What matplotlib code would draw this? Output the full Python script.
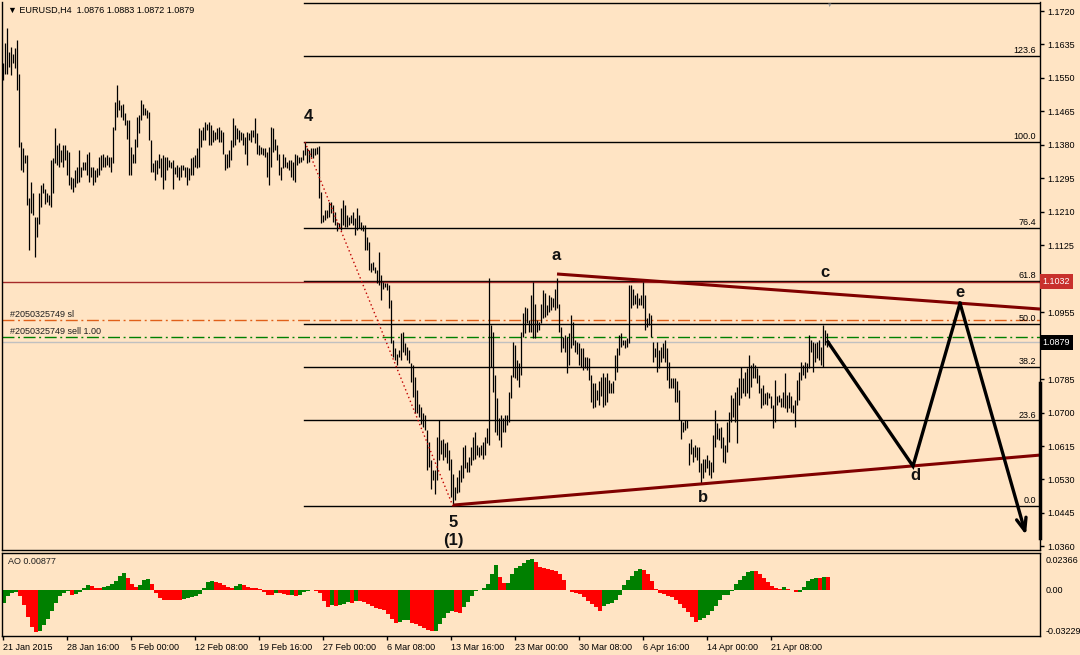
import numpy as np
import matplotlib
matplotlib.use('Agg')
import matplotlib.pyplot as plt
import matplotlib.transforms as mtransforms

# EURUSD H4 bars (high / low), one per bar
highs = [
    1.1587, 1.1638, 1.1676, 1.1617, 1.1629, 1.1612, 1.1625, 1.1646, 1.1561, 1.1388,
    1.1371, 1.1354, 1.1354, 1.1244, 1.1286, 1.1257, 1.1197, 1.1197, 1.1257, 1.1278,
    1.1282, 1.1269, 1.1257, 1.1252, 1.1341, 1.1346, 1.1422, 1.1379, 1.1384, 1.1367,
    1.1379, 1.1379, 1.1367, 1.1362, 1.1299, 1.1295, 1.1316, 1.1324, 1.1367, 1.1324,
    1.1337, 1.1337, 1.1358, 1.1362, 1.1324, 1.1324, 1.1316, 1.1320, 1.1350, 1.1354,
    1.1358, 1.1350, 1.1354, 1.1350, 1.1350, 1.1426, 1.1490, 1.1532, 1.1494, 1.1481,
    1.1485, 1.1460, 1.1443, 1.1443, 1.1375, 1.1358, 1.1396, 1.1451, 1.1456, 1.1494,
    1.1485, 1.1473, 1.1468, 1.1464, 1.1392, 1.1333, 1.1341, 1.1341, 1.1358, 1.1346,
    1.1354, 1.1350, 1.1350, 1.1341, 1.1337, 1.1341, 1.1324, 1.1329, 1.1324, 1.1329,
    1.1329, 1.1324, 1.1324, 1.1320, 1.1346, 1.1350, 1.1354, 1.1371, 1.1422, 1.1417,
    1.1426, 1.1439, 1.1434, 1.1439, 1.1430, 1.1417, 1.1413, 1.1422, 1.1426, 1.1417,
    1.1413, 1.1358, 1.1358, 1.1367, 1.1392, 1.1447, 1.1430, 1.1422, 1.1417, 1.1413,
    1.1409, 1.1401, 1.1413, 1.1409, 1.1417, 1.1417, 1.1447, 1.1409, 1.1379, 1.1375,
    1.1371, 1.1371, 1.1362, 1.1375, 1.1426, 1.1422, 1.1396, 1.1379, 1.1358, 1.1324,
    1.1358, 1.1350, 1.1337, 1.1341, 1.1341, 1.1337, 1.1358, 1.1354, 1.1350, 1.1350,
    1.1367, 1.1387,
    1.1371, 1.1367, 1.1371, 1.1371, 1.1371, 1.1375, 1.1377, 1.1261,
    1.1202, 1.1214, 1.1214, 1.1236, 1.1236, 1.1227, 1.1210, 1.1185, 1.1181, 1.1219,
    1.1240, 1.1227, 1.1202, 1.1198, 1.1202, 1.1210, 1.1193, 1.1219, 1.1202, 1.1185,
    1.1176, 1.1176, 1.1147, 1.1134, 1.1079, 1.1083, 1.1070, 1.1062, 1.1109, 1.1049,
    1.1032, 1.1028, 1.1028, 1.1024, 1.0986, 1.0884, 1.0863, 1.0850, 1.0859, 1.0901,
    1.0905, 1.0876, 1.0867, 1.0859, 1.0825, 1.0821, 1.0791, 1.0757, 1.0723, 1.0715,
    1.0698, 1.0694, 1.0655, 1.0626, 1.0579, 1.0554, 1.0554, 1.0638, 1.0681, 1.0630,
    1.0634, 1.0622, 1.0626, 1.0605, 1.0583, 1.0545,
    1.0512, 1.0537, 1.0554, 1.0566,
    1.0613, 1.0617, 1.0575, 1.0588, 1.0613, 1.0639, 1.0651, 1.0617, 1.0613, 1.0617,
    1.0626, 1.0639, 1.0660, 1.1041, 1.0922, 1.0905, 1.0795, 1.0736, 1.0685, 1.0694,
    1.0685, 1.0694, 1.0694, 1.0753, 1.0795, 1.0880, 1.0872, 1.0833, 1.0825, 1.0905,
    1.0952, 1.0969, 1.0965, 1.0935, 1.0999, 1.1032, 1.0977, 1.0935, 1.0931, 1.0977,
    1.1011, 1.1003, 1.0973, 1.0999, 1.0994, 1.0990, 1.1015, 1.1043, 1.0977, 1.0918,
    1.0893, 1.0897, 1.0893, 1.0901, 1.0948, 1.0931, 1.0884, 1.0880, 1.0876, 1.0863,
    1.0863, 1.0842, 1.0842, 1.0838, 1.0795, 1.0774, 1.0774, 1.0757, 1.0779, 1.0791,
    1.0800, 1.0791, 1.0800, 1.0783, 1.0774, 1.0779, 1.0846, 1.0863, 1.0897, 1.0901,
    1.0884, 1.0884, 1.0889, 1.1024, 1.1024, 1.1015, 1.0999, 1.1003, 1.0990, 1.0999,
    1.1032, 1.0999, 1.0939, 1.0952,
    1.0948, 1.0880, 1.0863, 1.0880, 1.0859, 1.0867,
    1.0876, 1.0884, 1.0863, 1.0829, 1.0787, 1.0787, 1.0787, 1.0779, 1.0757, 1.0681,
    1.0677, 1.0681, 1.0681, 1.0622, 1.0634, 1.0613, 1.0617, 1.0613, 1.0613, 1.0571,
    1.0583, 1.0583, 1.0592, 1.0579, 1.0575, 1.0643, 1.0706, 1.0673, 1.0660, 1.0664,
    1.0639, 1.0617, 1.0677, 1.0702, 1.0745, 1.0736, 1.0753, 1.0766, 1.0787, 1.0817,
    1.0787, 1.0804, 1.0812, 1.0846, 1.0821, 1.0825, 1.0821, 1.0812, 1.0795, 1.0762,
    1.0770, 1.0749, 1.0753, 1.0749, 1.0741, 1.0719, 1.0783, 1.0741, 1.0745, 1.0736,
    1.0753, 1.0800, 1.0745, 1.0753, 1.0741, 1.0719, 1.0732, 1.0783, 1.0804, 1.0829,
    1.0821, 1.0829, 1.0825, 1.0897, 1.0884, 1.0880, 1.0876, 1.0880, 1.0884, 1.0867,
    1.0922, 1.0910, 1.0901, 1.0883,
]
lows = [
    1.1545, 1.1561, 1.1561, 1.1578, 1.1557, 1.1587, 1.1574, 1.1519, 1.1375, 1.1316,
    1.1312, 1.1333, 1.1227, 1.1113, 1.1206, 1.1202, 1.1096, 1.1146, 1.1180, 1.1223,
    1.1257, 1.1231, 1.1235, 1.1227, 1.1223, 1.1257, 1.1333, 1.1329, 1.1324, 1.1337,
    1.1324, 1.1341, 1.1303, 1.1278, 1.1269, 1.1261, 1.1273, 1.1282, 1.1286, 1.1299,
    1.1316, 1.1316, 1.1303, 1.1286, 1.1299, 1.1278, 1.1286, 1.1299, 1.1303, 1.1316,
    1.1324, 1.1324, 1.1329, 1.1324, 1.1312, 1.1333, 1.1417, 1.1451, 1.1468, 1.1451,
    1.1443, 1.1430, 1.1396, 1.1303, 1.1303, 1.1333, 1.1333, 1.1375, 1.1409, 1.1443,
    1.1456, 1.1456, 1.1447, 1.1392, 1.1312, 1.1312, 1.1290, 1.1307, 1.1320, 1.1299,
    1.1269, 1.1290, 1.1316, 1.1324, 1.1320, 1.1269, 1.1307, 1.1299, 1.1290, 1.1299,
    1.1316, 1.1299, 1.1278, 1.1290, 1.1303, 1.1303, 1.1324, 1.1320, 1.1324, 1.1375,
    1.1392, 1.1392, 1.1417, 1.1379, 1.1379, 1.1388, 1.1392, 1.1396, 1.1388, 1.1388,
    1.1358, 1.1316, 1.1320, 1.1324, 1.1341, 1.1375, 1.1379, 1.1396, 1.1388, 1.1392,
    1.1379, 1.1358, 1.1329, 1.1392, 1.1388, 1.1401, 1.1384, 1.1358, 1.1354, 1.1358,
    1.1354, 1.1350, 1.1299, 1.1278, 1.1324, 1.1362, 1.1367, 1.1341, 1.1303, 1.1290,
    1.1320, 1.1324, 1.1320, 1.1316, 1.1299, 1.1290, 1.1286, 1.1329, 1.1333, 1.1337,
    1.1341, 1.1354,
    1.1333, 1.1337, 1.1350, 1.1346, 1.1354, 1.1358, 1.1244, 1.1181,
    1.1185, 1.1189, 1.1193, 1.1198, 1.1206, 1.1185, 1.1176, 1.1160, 1.1168, 1.1164,
    1.1176, 1.1172, 1.1172, 1.1176, 1.1181, 1.1176, 1.1151, 1.1164, 1.1168, 1.1164,
    1.1160, 1.1113, 1.1113, 1.1062, 1.1058, 1.1062, 1.1054, 1.1028, 1.1024, 1.0986,
    1.1015, 1.1020, 1.1011, 1.0965, 1.0876, 1.0842, 1.0833, 1.0821, 1.0842, 1.0833,
    1.0854, 1.0846, 1.0833, 1.0825, 1.0778, 1.0740, 1.0698, 1.0698, 1.0689, 1.0672,
    1.0664, 1.0655, 1.0554, 1.0562, 1.0507, 1.0528, 1.0494, 1.0528, 1.0579, 1.0596,
    1.0579, 1.0588, 1.0571, 1.0554, 1.0486, 1.0462,
    1.0478, 1.0495, 1.0499, 1.0524,
    1.0533, 1.0558, 1.0550, 1.0550, 1.0566, 1.0579, 1.0583, 1.0592, 1.0588, 1.0592,
    1.0583, 1.0592, 1.0622, 1.0617, 1.0817, 1.0753, 1.0651, 1.0643, 1.0630, 1.0613,
    1.0651, 1.0651, 1.0668, 1.0677, 1.0736, 1.0791, 1.0787, 1.0783, 1.0766, 1.0795,
    1.0893, 1.0901, 1.0927, 1.0905, 1.0905, 1.0889, 1.0889, 1.0905, 1.0910, 1.0927,
    1.0939, 1.0944, 1.0948, 1.0956, 1.0961, 1.0969, 1.0961, 1.0965, 1.0905, 1.0855,
    1.0863, 1.0855, 1.0800, 1.0821, 1.0863, 1.0872, 1.0855, 1.0850, 1.0821, 1.0817,
    1.0808, 1.0812, 1.0808, 1.0783, 1.0728, 1.0711, 1.0715, 1.0732, 1.0719, 1.0741,
    1.0715, 1.0719, 1.0728, 1.0749, 1.0749, 1.0749, 1.0783, 1.0804, 1.0846, 1.0867,
    1.0872, 1.0863, 1.0867, 1.0876, 1.0965, 1.0973, 1.0977, 1.0965, 1.0973, 1.0973,
    1.0965, 1.0910, 1.0918, 1.0922,
    1.0893, 1.0829, 1.0842, 1.0804, 1.0812, 1.0829,
    1.0838, 1.0829, 1.0783, 1.0762, 1.0762, 1.0762, 1.0728, 1.0728, 1.0681, 1.0634,
    1.0651, 1.0655, 1.0660, 1.0566, 1.0596, 1.0575, 1.0588, 1.0579, 1.0550, 1.0518,
    1.0533, 1.0550, 1.0558, 1.0541, 1.0533, 1.0550, 1.0613, 1.0634, 1.0630, 1.0609,
    1.0575, 1.0571, 1.0600, 1.0626, 1.0677, 1.0689, 1.0677, 1.0622, 1.0719, 1.0736,
    1.0749, 1.0741, 1.0749, 1.0736, 1.0766, 1.0787, 1.0787, 1.0774, 1.0749, 1.0711,
    1.0719, 1.0723, 1.0719, 1.0736, 1.0711, 1.0660, 1.0677, 1.0719, 1.0728, 1.0715,
    1.0715, 1.0711, 1.0702, 1.0711, 1.0702, 1.0698, 1.0664, 1.0719, 1.0732, 1.0783,
    1.0795, 1.0787, 1.0804, 1.0812, 1.0855, 1.0804, 1.0829, 1.0838, 1.0833, 1.0821,
    1.0817, 1.0872, 1.0867, 1.0872,
]

# Awesome Oscillator, read every second bar
ao = [
    -0.0091, -0.0045, -0.0019, -0.0012, -0.0045, -0.0110, -0.0191, -0.0261, -0.0299, -0.0289,
    -0.0249, -0.0206, -0.0148, -0.0093, -0.0045, -0.0024, -0.0010, -0.0033, -0.0031, -0.0014,
    0.0010, 0.0031, 0.0026, 0.0014, 0.0014, 0.0019, 0.0024, 0.0038, 0.0065, 0.0100,
    0.0120, 0.0086, 0.0043, 0.0017, 0.0036, 0.0067, 0.0079, 0.0038, -0.0024, -0.0055,
    -0.0069, -0.0069, -0.0069, -0.0072, -0.0074, -0.0065, -0.0057, -0.0053, -0.0045, -0.0026,
    0.0014, 0.0053, 0.0062, 0.0057, 0.0050, 0.0036, 0.0019, 0.0012, 0.0024, 0.0038,
    0.0031, 0.0017, 0.0010, 0.0010, 0.0005, -0.0012, -0.0033, -0.0036, -0.0019, -0.0019,
    -0.0029, -0.0038, -0.0033, -0.0045, -0.0033, -0.0014, -0.0007, 0.0002, -0.0005, -0.0024,
    -0.0076, -0.0124, -0.0105, -0.0112, -0.0110, -0.0098, -0.0088, -0.0093, -0.0081, -0.0081,
    -0.0086, -0.0100, -0.0115, -0.0129, -0.0134, -0.0139, -0.0167, -0.0208, -0.0234, -0.0225,
    -0.0213, -0.0210, -0.0232, -0.0244, -0.0256, -0.0270, -0.0280, -0.0292, -0.0287, -0.0244,
    -0.0201, -0.0163, -0.0148, -0.0158, -0.0160, -0.0124, -0.0084, -0.0041, -0.0010, 0.0002,
    0.0014, 0.0038, 0.0110, 0.0177, 0.0091, 0.0048, 0.0050, 0.0110, 0.0153, 0.0167,
    0.0191, 0.0210, 0.0215, 0.0194, 0.0163, 0.0153, 0.0146, 0.0141, 0.0134, 0.0110,
    0.0067, 0.0002, -0.0014, -0.0024, -0.0031, -0.0053, -0.0076, -0.0100, -0.0124, -0.0148,
    -0.0115, -0.0103, -0.0091, -0.0072, -0.0038, 0.0031, 0.0069, 0.0098, 0.0129, 0.0146,
    0.0141, 0.0110, 0.0062, 0.0007, -0.0022, -0.0031, -0.0041, -0.0053, -0.0074, -0.0103,
    -0.0129, -0.0158, -0.0189, -0.0225, -0.0210, -0.0196, -0.0177, -0.0148, -0.0112, -0.0069,
    -0.0036, -0.0033, -0.0010, 0.0043, 0.0069, 0.0100, 0.0124, 0.0129, 0.0129, 0.0108,
    0.0081, 0.0053, 0.0026, 0.0012, 0.0007, 0.0017, 0.0007, -0.0002, -0.0017, -0.0012,
    0.0022, 0.0062, 0.0076, 0.0086, 0.0086, 0.0091, 0.0088,
]
ao_step = 2

time_labels = ['21 Jan 2015', '28 Jan 16:00', '5 Feb 00:00', '12 Feb 08:00', '19 Feb 16:00',
               '27 Feb 00:00', '6 Mar 08:00', '13 Mar 16:00', '23 Mar 00:00', '30 Mar 08:00',
               '6 Apr 16:00', '14 Apr 00:00', '21 Apr 08:00']
bars_per_label = 32

# fibonacci from wave 4 high to wave 5 low
fib_high = 1.1387
fib_low = 1.0462
fib_start = 151.5
fib_levels = [0.0, 23.6, 38.2, 50.0, 61.8, 76.4, 100.0, 123.6, 138.2]

hline_level = 1.1032
sl_level = 1.0935
sell_level = 1.0892
bid = 1.0879

# wave drawings (bar index, price)
wave4_to_5 = [(152, 1.1387), (226, 1.0462)]
upper_tl = [(278, 1.1052), (519.5, 1.0963)]
lower_tl = [(226, 1.0465), (519.5, 1.0592)]
forecast = [(413.5, 1.0879), (456, 1.0564), (479.5, 1.0978), (512.5, 1.0389)]
wave_labels = [('4', 153.5, 1.1451), ('5', 226, 1.0422), ('(1)', 226, 1.0376),
               ('a', 277.5, 1.1098), ('b', 351, 1.0483), ('c', 412, 1.1057),
               ('d', 457, 1.0539), ('e', 479.5, 1.1006)]

assert len(highs) == len(lows)

bg = '#FFE4C4'
small = ['Liberation Sans', 'DejaVu Sans']
plt.rcParams['font.family'] = small

fig = plt.figure(figsize=(10.8, 6.55), dpi=100, facecolor=bg)
ax = fig.add_axes([2 / 1080, 105 / 655, 1038 / 1080, 548 / 655], facecolor=bg)
ax2 = fig.add_axes([2 / 1080, 19 / 655, 1038 / 1080, 83 / 655], facecolor=bg)

ymin, ymax = 1.03509, 1.17429
xs = np.arange(1, len(highs) + 1)
ax.vlines(xs, lows, highs, colors='black', lw=0.9, zorder=3)

ax.set_xlim(0.5, 519.5)
ax.set_ylim(ymin, ymax)

# fib levels
for lv in fib_levels:
    p = fib_low + (fib_high - fib_low) * lv / 100
    ax.plot([fib_start, 519.5], [p, p], color='black', lw=1, zorder=2)
    if p + 0.0025 < ymax:
        ax.text(517.5, p + 0.0002, '%.1f' % lv, ha='right', va='bottom', fontsize=6.5,
                color='black')

ax.axhline(hline_level, color='#A52A2A', lw=1, zorder=2)
ax.axhline(sl_level, color='#E0601A', lw=1, ls=(0, (8.6, 2.6, 1.4, 2.6)), zorder=2)
ax.axhline(sell_level, color='#008000', lw=1, ls=(0, (8.6, 2.6, 1.4, 2.6)), zorder=2)
ax.axhline(bid, color='#C0C0C0', lw=1, zorder=1)
ax.text(4.5, sl_level + 0.0003, '#2050325749 sl', fontsize=6.5, color='#202020', va='bottom')
ax.text(4.5, sell_level + 0.0003, '#2050325749 sell 1.00', fontsize=6.5, color='#202020', va='bottom')

ax.plot(*zip(*wave4_to_5), color='#C00000', lw=1, ls=(0, (1, 2)), zorder=4)
ax.plot(*zip(*upper_tl), color='#800000', lw=2.2, zorder=4, solid_capstyle='butt')
ax.plot(*zip(*lower_tl), color='#800000', lw=2.2, zorder=4, solid_capstyle='butt')

fx, fy = zip(*forecast)
ax.plot(fx[:-1], fy[:-1], color='black', lw=2.4, zorder=5, solid_joinstyle='miter')
ax.annotate('', xy=forecast[-1], xytext=forecast[-2],
            arrowprops=dict(arrowstyle='->,head_length=0.9,head_width=0.35',
                            color='black', lw=2.4, shrinkA=0, shrinkB=0), zorder=5)

for txt, x, y in wave_labels:
    ax.text(x, y, txt, ha='center', va='center', fontsize=12, fontweight='bold',
            family='Liberation Sans', color='#111111', zorder=6)

# right price scale; the two labels under the price boxes stay hidden
yt = np.round(1.0360 + 0.0085 * np.arange(17), 4)
hidden = [hline_level, bid]
ax.set_yticks(yt)
ax.set_yticklabels(['' if min(abs(v - h) for h in hidden) < 0.0012 else '%.4f' % v
                    for v in yt])
ax.yaxis.tick_right()
ax.tick_params(axis='y', direction='out', length=3, width=1, labelsize=6.5, pad=2, colors='black')
ax.set_xticks([])
for s in ['left', 'right', 'bottom']:
    ax.spines[s].set_color('black')
    ax.spines[s].set_linewidth(1)
ax.spines['top'].set_visible(False)

blend = mtransforms.blended_transform_factory(ax.transAxes, ax.transData)
ax.text(1.0025, hline_level, '1.1032', transform=blend, color='white', fontsize=6.5,
        va='center', ha='left', zorder=10,
        bbox=dict(facecolor='#C8302C', edgecolor='none', pad=2.2))
ax.text(1.0025, bid, '1.0879', transform=blend, color='white', fontsize=6.5,
        va='center', ha='left', zorder=10,
        bbox=dict(facecolor='black', edgecolor='none', pad=2.2))
ax.plot([1.0, 1.0], [1.0775, 1.0381], transform=blend, color='black', lw=2.5,
        clip_on=False, zorder=6)

# AO panel
ao = np.array(ao)
ao_x = 1 + ao_step * np.arange(len(ao))
d = np.diff(ao, prepend=ao[0] - 1)
ao_colors = np.where(d > 0, '#008000', '#FF0000')
ax2.bar(ao_x - 0.5, ao, width=ao_step, align='edge', color=ao_colors, linewidth=0,
        antialiased=False)
ax2.set_xlim(0.5, 519.5)
ax2.set_ylim(-0.0325, 0.0259)
ax2.set_yticks([0.02366, 0.0, -0.03229])
ax2.set_yticklabels(['0.02366', '0.00', '-0.03229'])
ax2.yaxis.tick_right()
ax2.tick_params(axis='y', length=0, labelsize=6.5, pad=4, colors='black')
labs = ax2.get_yticklabels()
labs[0].set_va('top')
labs[2].set_va('bottom')
ax2.set_xticks(1 + bars_per_label * np.arange(len(time_labels)))
ax2.set_xticklabels(time_labels)
ax2.tick_params(axis='x', direction='out', length=3, width=1, labelsize=6.5, pad=2)
for lab in ax2.get_xticklabels():
    lab.set_ha('left')
for s in ax2.spines.values():
    s.set_color('black')
    s.set_linewidth(1)
ax2.text(3.5, 0.0200, 'AO 0.00877', fontsize=6.5, color='#202020', va='center')

fig.text(8 / 1080, 1 - 10 / 655, '\u25bc EURUSD,H4  1.0876 1.0883 1.0872 1.0879',
         fontsize=6.5, va='center', ha='left', family=small)
fig.text(830 / 1080, 1 - 5 / 655, '\u25bc', fontsize=4, color='#9A9A9A', ha='center',
         va='center', family=small)

plt.savefig('out.png', dpi=100, facecolor=bg)
